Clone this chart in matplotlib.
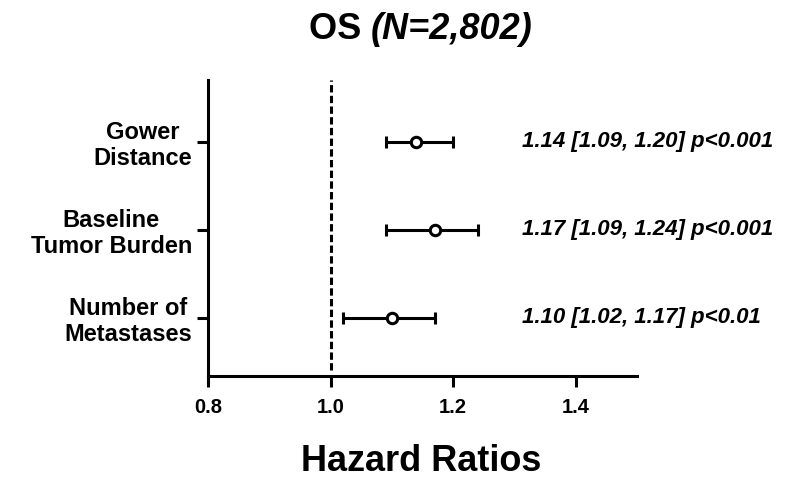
import matplotlib
matplotlib.use('Agg')
import matplotlib.pyplot as plt
import numpy as np

plt.rcParams['font.family'] = ['Liberation Sans', 'DejaVu Sans']

labels = ['Gower\nDistance', 'Baseline\nTumor Burden', 'Number of\nMetastases']
hr = [1.14, 1.17, 1.10]
lo = [1.09, 1.09, 1.02]
hi = [1.20, 1.24, 1.17]
pvals = ['p<0.001', 'p<0.001', 'p<0.01']
xticks = [0.8, 1.0, 1.2, 1.4]

fig = plt.figure(figsize=(7.85, 4.79), dpi=100)
ax = fig.add_axes([0.265, 0.215, 0.5465, 0.618])

ypos = np.array([3, 2, 1])
hr_a = np.array(hr)
err = [hr_a - np.array(lo), np.array(hi) - hr_a]
ax.errorbar(hr, ypos, xerr=err, fmt='o', color='black', mfc='white', mec='black',
            ms=7.5, mew=2.2, elinewidth=2.2, capsize=4.5, capthick=2.2, zorder=3)
ax.axvline(1.0, ymin=0.02, color='black', ls=(0, (2.4, 1.1)), lw=2.2, zorder=1)

for y, h, l, u, p in zip(ypos, hr, lo, hi, pvals):
    ax.text(1.3127, y, f'{h:.2f} [{l:.2f}, {u:.2f}] {p}', va='center', ha='left',
            fontsize=16, fontweight='bold', style='italic', clip_on=False)

ax.set_xlim(0.8, 1.5)
ax.set_ylim(0.34, 3.70)
ax.set_xticks(xticks)
ax.set_xticklabels([f'{t:.1f}' for t in xticks], fontsize=14.5, fontweight='bold')
ax.set_yticks(ypos)
ax.set_yticklabels(labels, fontsize=17, fontweight='bold', ha='right',
                   multialignment='center', linespacing=1.15)
for s in ['top', 'right']:
    ax.spines[s].set_visible(False)
for s in ['left', 'bottom']:
    ax.spines[s].set_linewidth(2.2)
ax.tick_params(axis='both', width=2.2, length=8, direction='out')
ax.tick_params(axis='x', pad=8)
ax.tick_params(axis='y', pad=3.6)

fig.text(0.537, 0.0167, 'Hazard Ratios', ha='center', va='baseline',
         fontsize=26, fontweight='bold')
fig.text(0.4726, 0.9186, 'OS ', ha='right', va='baseline', fontsize=26, fontweight='bold')
fig.text(0.4726, 0.9186, '(N=2,802)', ha='left', va='baseline', fontsize=26,
         fontweight='bold', style='italic')

fig.savefig('out.png', dpi=100)
